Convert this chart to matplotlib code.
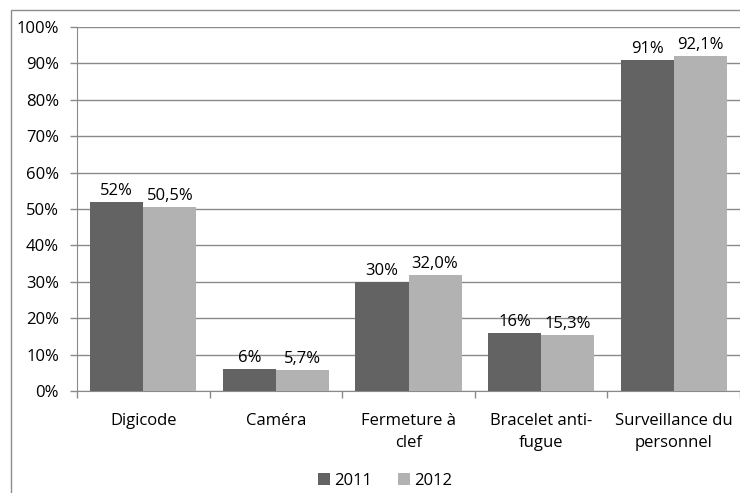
import matplotlib.pyplot as plt
import numpy as np
from matplotlib.patches import Rectangle

plt.rcParams['font.family'] = ['Open Sans', 'DejaVu Sans']

categories = ['Digicode', 'Caméra', 'Fermeture à\nclef', 'Bracelet anti-\nfugue',
              'Surveillance du\npersonnel']
v2011 = [52, 6, 30, 16, 91]
v2012 = [50.5, 5.7, 32.0, 15.3, 92.1]
lab2011 = ['52%', '6%', '30%', '16%', '91%']
lab2012 = ['50,5%', '5,7%', '32,0%', '15,3%', '92,1%']
yticks = list(range(0, 101, 10))

W, H = 740, 493
FS = 12
fig = plt.figure(figsize=(W / 100, H / 100), dpi=100)

# chart border (Excel chart area)
fig.patches.append(Rectangle((11 / W, -0.1), 2, 1 - 10 / H + 0.1, transform=fig.transFigure,
                             fill=False, edgecolor='#8c8c8c', linewidth=1))

ax = fig.add_axes([77 / W, 1 - 391 / H, (740 - 77) / W, (391 - 27) / H])

x = np.arange(len(categories))
bw = 0.4
b1 = ax.bar(x - bw / 2, v2011, bw, color='#636363', label='2011', zorder=3)
b2 = ax.bar(x + bw / 2, v2012, bw, color='#b2b2b2', label='2012', zorder=3)

for bars, labs in ((b1, lab2011), (b2, lab2012)):
    for b, t in zip(bars, labs):
        ax.text(b.get_x() + b.get_width() / 2, b.get_height() + 0.8, t,
                ha='center', va='bottom', fontsize=FS, color='#000000')

ax.set_xlim(-0.5, len(categories) - 0.5)
ax.set_ylim(0, 100)
ax.set_yticks(yticks)
ax.set_yticklabels([f'{v}%' for v in yticks], fontsize=FS)
ax.yaxis.grid(True, color='#8a8a8a', linewidth=1, zorder=0)
ax.set_axisbelow(True)

ax.set_xticks(x)
ax.set_xticklabels(categories, fontsize=FS, linespacing=1.45)
ax.tick_params(axis='x', length=0, pad=16)
ax.set_xticks(np.arange(-0.5, len(categories), 1), minor=True)
ax.tick_params(axis='x', which='minor', length=5, color='#8a8a8a', width=1)
ax.tick_params(axis='y', length=5, color='#8a8a8a', width=1, pad=8)

for s in ('top', 'right'):
    ax.spines[s].set_visible(False)
for s in ('left', 'bottom'):
    ax.spines[s].set_color('#8a8a8a')

fig.legend(loc='center', bbox_to_anchor=(385 / W, 1 - 481 / H), ncol=2, frameon=False,
           fontsize=FS, handlelength=0.7, handleheight=0.7, handletextpad=0.25,
           columnspacing=1.6)

fig.savefig('out.png', dpi=100)
